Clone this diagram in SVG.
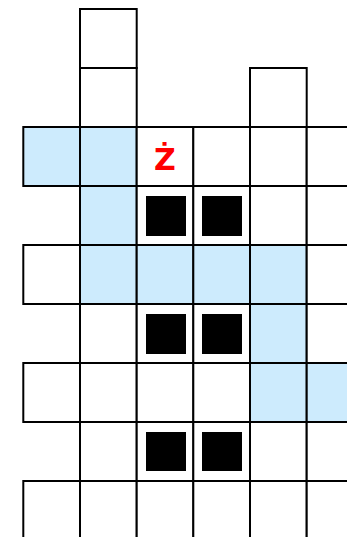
<svg xmlns="http://www.w3.org/2000/svg" width="347" height="537" viewBox="0 0 347 537">
<style>
.c{fill:#ffffff;stroke:#000;stroke-width:2}
.b{fill:#cdebfd;stroke:#000;stroke-width:2}
.k{fill:#000}
</style>
<rect width="347" height="537" fill="#fff"/>
<g id="cells">
<g id="r0"><rect class="c" x="80" y="9" width="56.7" height="59"/></g>
<g id="r1"><rect class="c" x="80" y="68" width="56.7" height="59"/><rect class="c" x="250" y="68" width="56.7" height="59"/></g>
<g id="r2">
<rect class="b" x="23.3" y="127" width="56.7" height="59"/>
<rect class="b" x="80" y="127" width="56.7" height="59"/>
<rect class="c" x="136.7" y="127" width="56.7" height="59"/>
<rect class="c" x="193.3" y="127" width="56.7" height="59"/>
<rect class="c" x="250" y="127" width="56.7" height="59"/>
<rect class="c" x="306.7" y="127" width="56.7" height="59"/>
</g>
<g id="r3">
<rect class="b" x="80" y="186" width="56.7" height="59"/>
<rect class="c" x="136.7" y="186" width="56.7" height="59"/>
<rect class="c" x="193.3" y="186" width="56.7" height="59"/>
<rect class="c" x="250" y="186" width="56.7" height="59"/>
<rect class="c" x="306.7" y="186" width="56.7" height="59"/>
</g>
<g id="r4">
<rect class="c" x="23.3" y="245" width="56.7" height="59"/>
<rect class="b" x="80" y="245" width="56.7" height="59"/>
<rect class="b" x="136.7" y="245" width="56.7" height="59"/>
<rect class="b" x="193.3" y="245" width="56.7" height="59"/>
<rect class="b" x="250" y="245" width="56.7" height="59"/>
<rect class="c" x="306.7" y="245" width="56.7" height="59"/>
</g>
<g id="r5">
<rect class="c" x="80" y="304" width="56.7" height="59"/>
<rect class="c" x="136.7" y="304" width="56.7" height="59"/>
<rect class="c" x="193.3" y="304" width="56.7" height="59"/>
<rect class="b" x="250" y="304" width="56.7" height="59"/>
<rect class="c" x="306.7" y="304" width="56.7" height="59"/>
</g>
<g id="r6">
<rect class="c" x="23.3" y="363" width="56.7" height="59"/>
<rect class="c" x="80" y="363" width="56.7" height="59"/>
<rect class="c" x="136.7" y="363" width="56.7" height="59"/>
<rect class="c" x="193.3" y="363" width="56.7" height="59"/>
<rect class="b" x="250" y="363" width="56.7" height="59"/>
<rect class="b" x="306.7" y="363" width="56.7" height="59"/>
</g>
<g id="r7">
<rect class="c" x="80" y="422" width="56.7" height="59"/>
<rect class="c" x="136.7" y="422" width="56.7" height="59"/>
<rect class="c" x="193.3" y="422" width="56.7" height="59"/>
<rect class="c" x="250" y="422" width="56.7" height="59"/>
<rect class="c" x="306.7" y="422" width="56.7" height="59"/>
</g>
<g id="r8">
<rect class="c" x="23.3" y="481" width="56.7" height="70"/>
<rect class="c" x="80" y="481" width="56.7" height="70"/>
<rect class="c" x="136.7" y="481" width="56.7" height="70"/>
<rect class="c" x="193.3" y="481" width="56.7" height="70"/>
<rect class="c" x="250" y="481" width="56.7" height="70"/>
<rect class="c" x="306.7" y="481" width="56.7" height="70"/>
</g>
</g>
<g id="blocks">
<rect class="k" x="146" y="196" width="40" height="40"/>
<rect class="k" x="202" y="196" width="40" height="40"/>
<rect class="k" x="146" y="314" width="40" height="40"/>
<rect class="k" x="202" y="314" width="40" height="40"/>
<rect class="k" x="146" y="432" width="40" height="39"/>
<rect class="k" x="202" y="432" width="40" height="39"/>
</g>
<g id="label"><text x="165" y="170" font-family="'DejaVu Sans', sans-serif" font-weight="bold" font-size="30" fill="#ff0000" text-anchor="middle">Ż</text></g>
</svg>
